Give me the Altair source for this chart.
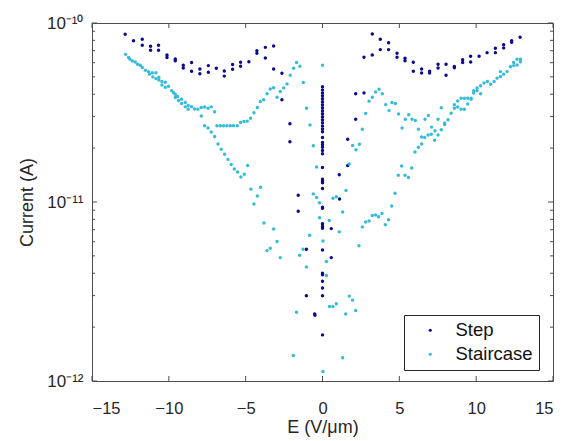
import altair as alt
import pandas as pd

# ---------------- data (E in V/um, current in A) ----------------
step_left_E = [-12.84, -12.30, -11.73, -11.73, -11.19, -11.19, -10.67, -10.67, -10.12, -10.12,
               -9.58, -9.58, -9.06, -9.06, -8.52, -8.52, -7.98, -7.98, -7.43, -7.43,
               -6.91, -6.39, -6.39, -5.85, -5.85, -5.33, -5.33, -4.79, -4.27, -4.27,
               -3.72, -3.72, -3.18, -3.18, -2.64, -2.64, -2.12, -2.12, -1.58, -1.58,
               -1.05, -1.05, -0.51, -0.49]
step_left_I = [8.65e-11, 7.96e-11, 8.11e-11, 7.51e-11, 7.41e-11, 7.05e-11, 7.51e-11, 7.05e-11, 6.63e-11, 6.41e-11,
               6.30e-11, 6.16e-11, 5.81e-11, 5.61e-11, 6.01e-11, 5.38e-11, 5.53e-11, 5.20e-11, 5.78e-11, 5.31e-11,
               5.58e-11, 5.40e-11, 5.05e-11, 5.86e-11, 5.52e-11, 6.04e-11, 5.73e-11, 6.08e-11, 7.01e-11, 6.78e-11,
               7.31e-11, 6.38e-11, 7.44e-11, 5.53e-11, 5.24e-11, 3.73e-11, 2.74e-11, 2.17e-11, 1.09e-11, 8.87e-12,
               5.45e-12, 2.99e-12, 2.37e-12, 2.33e-12]

step_center_E = [0.0, 0.0, 0.0, 0.0, 0.0, 0.0, 0.0, 0.0, 0.0, 0.0,
                 0.0, 0.0, 0.0, 0.0, 0.0, 0.0, 0.0, 0.0, 0.0, 0.0,
                 0.0, 0.0, 0.0, 0.0, 0.0, 0.0, 0.0, 0.0, 0.0, 0.0,
                 0.0, 0.0, 0.0, 0.0, 0.0, 0.0, 0.0, 0.0, 0.0]
step_center_I = [4.40e-11, 4.23e-11, 4.07e-11, 3.92e-11, 3.77e-11, 3.63e-11, 3.49e-11, 3.36e-11, 3.23e-11, 3.11e-11,
                 2.99e-11, 2.88e-11, 2.77e-11, 2.66e-11, 2.56e-11, 2.47e-11, 2.29e-11, 2.15e-11, 2.09e-11, 2.02e-11,
                 1.94e-11, 1.86e-11, 1.56e-11, 1.34e-11, 1.31e-11, 1.28e-11, 1.19e-11, 9.35e-12, 9.23e-12, 7.57e-12,
                 7.33e-12, 7.13e-12, 5.40e-12, 4.00e-12, 3.92e-12, 3.61e-12, 3.31e-12, 2.99e-12, 1.81e-12]

step_right_E = [0.57, 0.57, 1.11, 1.09, 1.64, 1.64, 2.16, 2.16, 2.70, 2.70,
                3.24, 3.24, 3.76, 3.76, 4.30, 4.30, 4.85, 4.85, 5.37, 5.37,
                5.91, 5.91, 6.45, 6.45, 6.97, 6.97, 7.52, 7.52, 8.04, 8.04,
                8.58, 8.58, 9.12, 9.12, 9.64, 9.64, 10.19, 10.71, 11.25, 11.25,
                11.79, 11.79, 12.31, 12.31, 12.86]
step_right_I = [7.10e-12, 4.89e-12, 1.04e-11, 1.42e-11, 1.60e-11, 2.24e-11, 2.90e-11, 4.03e-11, 4.07e-11, 6.44e-11,
                8.68e-11, 6.63e-11, 8.11e-11, 7.10e-11, 7.76e-11, 7.10e-11, 6.78e-11, 6.44e-11, 6.35e-11, 6.16e-11,
                6.04e-11, 5.38e-11, 5.53e-11, 5.26e-11, 5.38e-11, 5.26e-11, 5.89e-11, 5.61e-11, 5.89e-11, 5.11e-11,
                5.72e-11, 5.62e-11, 6.24e-11, 6.01e-11, 6.52e-11, 6.05e-11, 6.52e-11, 6.83e-11, 7.22e-11, 6.83e-11,
                7.57e-11, 7.26e-11, 7.96e-11, 7.80e-11, 8.32e-11]

stair_upper_E = [-12.82, -12.62, -12.53, -12.38, -12.19, -12.04, -11.86, -11.73, -11.52, -11.32,
                 -11.08, -10.84, -11.26, -11.04, -10.84, -10.65, -10.65, -10.45, -10.23, -10.45,
                 -10.23, -10.02, -9.82, -9.69, -9.58, -9.43, -9.58, -9.37, -9.17, -8.93,
                 -9.17, -8.74, -8.93, -8.52, -8.33, -8.74, -8.11, -7.89, -7.67, -7.45,
                 -7.24, -7.02]
stair_upper_I = [6.68e-11, 6.41e-11, 6.27e-11, 6.14e-11, 6.06e-11, 5.89e-11, 5.81e-11, 5.64e-11, 5.45e-11, 5.35e-11,
                 5.28e-11, 5.28e-11, 5.18e-11, 5.00e-11, 4.89e-11, 4.98e-11, 4.81e-11, 4.71e-11, 4.67e-11, 4.51e-11,
                 4.38e-11, 4.43e-11, 4.19e-11, 4.08e-11, 4.00e-11, 3.88e-11, 3.83e-11, 3.69e-11, 3.75e-11, 3.60e-11,
                 3.55e-11, 3.46e-11, 3.40e-11, 3.41e-11, 3.31e-11, 3.30e-11, 3.30e-11, 3.37e-11, 3.39e-11, 3.34e-11,
                 3.40e-11, 3.19e-11]

stair_mid_E = [-7.89, -7.67, -7.45, -7.24, -7.02, -6.80, -6.59, -6.37, -6.15, -5.94,
               -5.74, -5.53, -5.31, -5.09, -4.87,
               -6.87, -6.65, -6.44, -6.22, -6.00, -5.79, -5.55,
               -5.33, -5.11, -4.90, -4.68, -4.46, -4.24, -4.05, -3.83, -3.61, -3.40,
               -3.18, -2.96, -2.75, -2.53, -2.31, -2.10, -1.88, -1.69, -1.47, -1.25,
               -1.04, -0.81, -0.60, -0.38, -0.60, -0.38]
stair_mid_I = [3.02e-11, 2.67e-11, 2.59e-11, 2.46e-11, 2.32e-11, 2.11e-11, 1.97e-11, 1.85e-11, 1.73e-11, 1.62e-11,
               1.53e-11, 1.47e-11, 1.38e-11, 1.43e-11, 1.60e-11,
               2.67e-11, 2.67e-11, 2.67e-11, 2.67e-11, 2.67e-11, 2.67e-11, 2.67e-11,
               2.78e-11, 2.82e-11, 2.83e-11, 2.94e-11, 3.15e-11, 3.37e-11, 3.64e-11, 3.73e-11, 4.02e-11, 4.28e-11,
               4.35e-11, 3.85e-11, 4.14e-11, 4.34e-11, 4.57e-11, 5.11e-11, 5.58e-11, 6.01e-11, 5.73e-11, 4.65e-11,
               3.34e-11, 2.69e-11, 2.06e-11, 1.57e-11, 1.11e-11, 1.06e-11]

stair_low_E = [-4.66, -4.03, -4.24, -4.46, -3.81, -3.18, -2.96, -3.40, -3.61, -2.75,
               -1.69, -1.90, -0.84, -1.27, -1.49, -1.05, -0.19, -0.19,
               0.00, 0.03, 0.25, 0.25, 0.03,
               0.46, 0.68, 0.90, 0.44, 0.68, 0.90, 1.09, 1.31, 1.53, 1.31,
               1.74, 1.96, 2.16, 1.51, 2.37, 2.59, 2.81, 3.03, 3.24, 3.46,
               3.65, 3.87, 4.09, 4.30, 4.50, 4.72]
stair_low_I = [1.18e-11, 1.21e-11, 1.08e-11, 9.75e-12, 7.64e-12, 7.07e-12, 6.01e-12, 5.51e-12, 5.35e-12, 4.89e-12,
               2.42e-12, 1.39e-12, 6.52e-12, 5.45e-12, 5.04e-12, 4.34e-12, 9.91e-12, 8.17e-12,
               5.81e-11, 6.05e-12, 4.65e-12, 3.88e-12, 1.13e-12,
               2.61e-12, 2.61e-12, 2.70e-12, 7.88e-12, 1.05e-11, 1.07e-11, 6.81e-12, 8.79e-12, 1.16e-11, 1.35e-12,
               2.98e-12, 2.83e-12, 2.48e-12, 2.37e-12, 5.69e-12, 7.26e-12, 7.73e-12, 7.84e-12, 8.40e-12, 8.46e-12,
               8.28e-12, 8.63e-12, 7.46e-12, 7.96e-12, 9.51e-12, 1.12e-11]

stair_right_E = [1.74, 1.96, 2.18, 2.40, 2.59, 2.81, 3.03, 3.24, 3.46, 3.68,
                 3.89, 4.11, 4.33, 4.52, 4.74, 4.95, 5.18, 5.39, 5.61, 5.83,
                 6.04, 6.24, 6.45, 6.67, 6.89, 7.10, 7.32, 7.52, 7.73, 7.95,
                 7.95, 8.17, 7.73, 7.52, 7.30, 7.08, 6.87, 6.65, 6.45, 6.24,
                 6.02, 5.80, 5.59, 5.37, 5.15, 4.93]
stair_right_I = [1.63e-11, 2.07e-11, 1.96e-11, 2.10e-11, 2.55e-11, 3.12e-11, 3.66e-11, 3.85e-11, 4.12e-11, 4.27e-11,
                 4.03e-11, 3.50e-11, 3.24e-11, 3.60e-11, 3.55e-11, 3.10e-11, 2.59e-11, 2.90e-11, 3.07e-11, 2.90e-11,
                 2.85e-11, 2.55e-11, 2.31e-11, 2.90e-11, 3.04e-11, 2.62e-11, 2.50e-11, 2.90e-11, 3.36e-11, 2.76e-11,
                 2.71e-11, 2.88e-11, 2.53e-11, 2.37e-11, 2.21e-11, 2.39e-11, 2.37e-11, 2.29e-11, 2.11e-11, 2.02e-11,
                 1.90e-11, 1.55e-11, 1.37e-11, 1.41e-11, 1.59e-11, 1.41e-11]

stair_far_E = [8.37, 8.58, 8.58, 8.80, 8.80, 9.02, 9.02, 9.23, 9.23, 9.45,
               9.45, 9.67, 9.67, 9.84, 9.84, 10.06, 10.06, 10.29, 10.29, 10.51,
               10.73, 10.94, 11.17, 11.36, 11.58, 11.58, 11.79, 12.01, 12.23, 12.44,
               12.44, 12.66, 12.66, 12.88, 12.88]
stair_far_I = [3.13e-11, 3.49e-11, 3.34e-11, 3.67e-11, 3.39e-11, 3.80e-11, 3.30e-11, 3.80e-11, 3.30e-11, 3.80e-11,
               3.53e-11, 3.80e-11, 3.75e-11, 4.18e-11, 4.06e-11, 4.18e-11, 4.33e-11, 4.46e-11, 4.02e-11, 4.62e-11,
               4.71e-11, 4.55e-11, 4.71e-11, 4.92e-11, 5.35e-11, 5.02e-11, 5.18e-11, 5.35e-11, 5.70e-11, 6.01e-11,
               5.78e-11, 6.27e-11, 5.83e-11, 6.27e-11, 6.08e-11]

series_names = ["Step", "Staircase"]
x_ticks = [-15, -10, -5, 0, 5, 10, 15]
y_major = [1e-12, 1e-11, 1e-10]
y_major_labels = ["10⁻¹²", "10⁻¹¹", "10⁻¹⁰"]
y_minor = [2e-12, 3e-12, 4e-12, 5e-12, 6e-12, 7e-12, 8e-12, 9e-12,
           2e-11, 3e-11, 4e-11, 5e-11, 6e-11, 7e-11, 8e-11, 9e-11]

# ---------------- build table ----------------
rows = []
groups = [
    ("Step", step_left_E, step_left_I),
    ("Step", step_center_E, step_center_I),
    ("Step", step_right_E, step_right_I),
    ("Staircase", stair_upper_E, stair_upper_I),
    ("Staircase", stair_mid_E, stair_mid_I),
    ("Staircase", stair_low_E, stair_low_I),
    ("Staircase", stair_right_E, stair_right_I),
    ("Staircase", stair_far_E, stair_far_I),
]
for name, es, cs in groups:
    assert len(es) == len(cs), (name, len(es), len(cs))
    for e, c in zip(es, cs):
        rows.append({"E": e, "I": c, "series": name})
df = pd.DataFrame(rows)

NAVY = "#0B0B8C"
CYAN = "#34BCD9"
AX = "#4D4D4D"
TXT = "#262626"
FONT = "Liberation Sans"
W, H = 461, 358
MAJ, MIN = 5, 3

xscale = alt.Scale(domain=[-15, 15], nice=False, zero=False)
yscale = alt.Scale(type="log", domain=[1e-12, 1e-10], nice=False)

expo = "round(log(datum.value)/LN10)"
label_expr = (f"{expo} == -10 ? '{y_major_labels[2]}' : "
              f"{expo} == -11 ? '{y_major_labels[1]}' : '{y_major_labels[0]}'")

x_axis = alt.Axis(values=x_ticks, title="E (V/μm)", ticks=False, domain=False,
                  grid=False, labelPadding=19, titlePadding=2, format="d",
                  labelFontSize=16.5)
y_axis = alt.Axis(values=y_major, labelExpr=label_expr, title="Current (A)",
                  ticks=False, domain=False, grid=False, labelPadding=9, titlePadding=10,
                  labelFontSize=17)

points = alt.Chart(df).mark_circle(size=12, opacity=1).encode(
    x=alt.X("E:Q", scale=xscale, axis=x_axis),
    y=alt.Y("I:Q", scale=yscale, axis=y_axis),
    color=alt.Color("series:N",
                    scale=alt.Scale(domain=series_names, range=[NAVY, CYAN]),
                    legend=alt.Legend(title=None, orient="none", legendX=312, legendY=292,
                                      strokeColor="#262626", fillColor="white",
                                      padding=6, symbolType="circle", symbolSize=10,
                                      symbolOffset=11, labelOffset=16, rowPadding=5,
                                      labelFontSize=18.5, labelFont=FONT, labelColor="#111111")),
)

ymaj_df = pd.DataFrame({"I": y_major})
ymin_df = pd.DataFrame({"I": y_minor})
xt_df = pd.DataFrame({"E": x_ticks})


def yrule(d, x0, x1):
    return alt.Chart(d).mark_rule(color=AX, strokeWidth=1).encode(
        y=alt.Y("I:Q", scale=yscale, axis=y_axis), x=alt.value(x0), x2=alt.value(x1))


def xrule(d, y0, y1):
    return alt.Chart(d).mark_rule(color=AX, strokeWidth=1).encode(
        x=alt.X("E:Q", scale=xscale, axis=x_axis), y=alt.value(y0), y2=alt.value(y1))


ticks = [
    yrule(ymaj_df, 0, MAJ), yrule(ymin_df, 0, MIN),
    yrule(ymaj_df, W - MAJ, W), yrule(ymin_df, W - MIN, W),
    xrule(xt_df, H - MAJ, H), xrule(xt_df, 0, MAJ),
]

chart = alt.layer(points, *ticks).properties(
    width=W, height=H, autosize="none",
    padding={"left": 92, "top": 23, "right": 14, "bottom": 60},
).configure_view(stroke=AX, strokeWidth=1).configure_axis(
    labelFont=FONT, titleFont=FONT, titleFontSize=18,
    labelColor=TXT, titleColor=TXT, titleFontWeight="normal",
)

chart.save("out.html", embed_options={"renderer": "svg", "actions": False})
